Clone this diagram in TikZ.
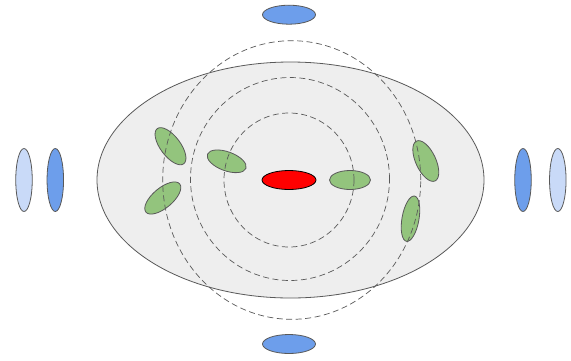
\documentclass[tikz,border=0pt]{standalone}
\usetikzlibrary{shapes.geometric}
\definecolor{strk}{HTML}{595959}
\definecolor{bgfill}{HTML}{EEEEEE}
\definecolor{grn}{HTML}{93C47D}
\definecolor{blu}{HTML}{6D9EEB}
\definecolor{lblu}{HTML}{C9DAF8}
\begin{document}
\begin{tikzpicture}[x=1pt,y=-1pt,
  ell/.style={ellipse,inner sep=0pt,draw=strk,line width=0.8pt},
  greenell/.style={ell,fill=grn,minimum width=44pt,minimum height=20pt},
  orbit/.style={ellipse,inner sep=0pt,draw=strk,dashed,dash pattern=on 6pt off 3.5pt,line width=0.7pt},
  blueh/.style={ell,fill=blu,minimum width=53pt,minimum height=19pt},
  bluev/.style={ell,minimum width=16.5pt,minimum height=63pt}]
\useasboundingbox (0,0) rectangle (571,360);
\node[ell,fill=bgfill,minimum width=387pt,minimum height=236pt] (body) at (290.5,180) {};
% green ellipses
\node[greenell,minimum width=41pt,minimum height=19pt] (g1) at (350,180) {};
\node[greenell,minimum width=41pt,minimum height=19pt,rotate=-20] (g2) at (226.7,161.3) {};
\node[greenell,rotate=-53] (g3) at (170.5,146.2) {};
\node[greenell,rotate=40] (g4) at (162.8,198) {};
\node[greenell,rotate=-65] (g5) at (425.8,161) {};
\node[greenell,minimum width=46pt,minimum height=17pt,rotate=80] (g6) at (410.5,218.7) {};
% orbits
\node[orbit,minimum width=130pt,minimum height=134pt] (o1) at (289,180) {};
\node[orbit,minimum width=199pt,minimum height=203pt] (o2) at (290,179) {};
\node[orbit,minimum width=258pt,minimum height=278.6pt] (o3) at (291.7,180) {};
% center
\node[ellipse,inner sep=0pt,draw=black,line width=0.8pt,fill=red,minimum width=54pt,minimum height=19pt] (core) at (289,180) {};
% blue ones
\node[blueh] (top) at (289,14.7) {};
\node[blueh] (bottom) at (289,344) {};
\node[bluev,fill=lblu] (l1) at (24,180) {};
\node[bluev,fill=blu] (l2) at (55.3,180) {};
\node[bluev,fill=blu] (r1) at (523,180) {};
\node[bluev,fill=lblu] (r2) at (557.8,180) {};
\end{tikzpicture}
\end{document}
